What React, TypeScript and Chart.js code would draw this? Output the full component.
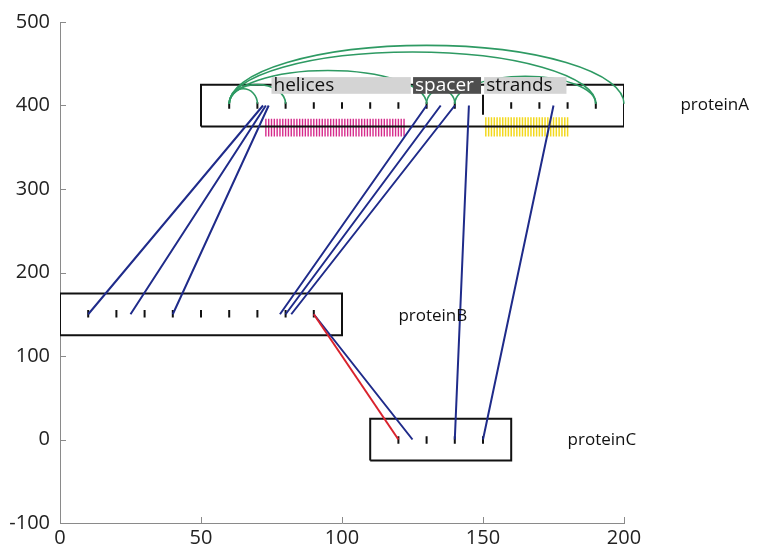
import React, { useEffect, useRef } from "react";
import { Chart, registerables } from "chart.js";

Chart.register(...registerables);

// ---------- data ----------
const proteinNames = ["proteinA", "proteinB", "proteinC"];
const proteinStart = [50, 0, 110];
const proteinEnd = [200, 100, 160];
const proteinLevel = [400, 150, 0];
const labelOffset = [0, -2, -1];

// residue tick marks on each protein
const proteinATicks = [60, 70, 80, 90, 100, 110, 120, 130, 140, 160, 170, 180, 190];
const proteinBTicks = [10, 20, 30, 40, 50, 60, 70, 80, 90];
const proteinCTicks = [120, 130, 140, 150];
const proteinABoundary = [150];

// domains on proteinA
const domainNames = ["helices", "spacer", "strands"];
const domainStart = [75, 125.2, 150.4];
const domainEnd = [124.4, 149.3, 179.6];
const domainDark = [false, true, false];

// residue-level feature marks on proteinA
const helixMarkFrom = 73;
const helixMarkTo = 122;
const strandMarkFrom = 151;
const strandMarkTo = 180;

// cross-links between proteins (protein index, residue)
const linkFromProtein = [0, 0, 0, 0, 0, 0, 0, 0, 1];
const linkFromResidue = [72, 73, 74, 130, 135, 140, 145, 175, 90];
const linkToProtein = [1, 1, 1, 1, 1, 1, 2, 2, 2];
const linkToResidue = [10, 25, 40, 78, 80, 82, 140, 150, 125];

// highlighted (red) cross-link
const redFromProtein = [1];
const redFromResidue = [90];
const redToProtein = [2];
const redToResidue = [120];

// self-links on proteinA (arcs)
const arcFrom = [60, 60, 60, 60, 60, 130, 140];
const arcTo = [70, 80, 130, 190, 200, 140, 190];
const arcHeight = [18, 23, 40, 62, 70, 17, 33];

// axes
const xTicks = [0, 50, 100, 150, 200];
const yTicks = [-100, 0, 100, 200, 300, 400, 500];

// ---------- style constants ----------
const BOX_HALF = 25;
const FONT = "'Open Sans', 'DejaVu Sans', sans-serif";
const BLUE = "#1f2b8a";
const RED = "#d9232d";
const GREEN = "#2e9a63";
const MAGENTA = "#d62c8c";
const YELLOW = "#f2d81f";
const AXIS = "#8a8a8a";

type P = { x: number; y: number | null };

function boxData(i: number): P[] {
  const s = proteinStart[i], e = proteinEnd[i], l = proteinLevel[i];
  return [
    { x: s, y: l - BOX_HALF },
    { x: e, y: l - BOX_HALF },
    { x: e, y: l + BOX_HALF },
    { x: s, y: l + BOX_HALF },
    { x: s, y: l - BOX_HALF },
  ];
}

function segs(xs: number[], y0: number, y1: number): P[] {
  const out: P[] = [];
  xs.forEach((x) => {
    out.push({ x, y: y0 }, { x, y: y1 }, { x, y: null });
  });
  return out;
}

function rangeMarks(from: number, to: number): number[] {
  const r: number[] = [];
  for (let v = from; v <= to; v++) r.push(v);
  return r;
}

function linkData(fp: number[], fr: number[], tp: number[], tr: number[]): P[] {
  const out: P[] = [];
  fp.forEach((p, i) => {
    out.push(
      { x: fr[i], y: proteinLevel[p] },
      { x: tr[i], y: proteinLevel[tp[i]] },
      { x: tr[i], y: null }
    );
  });
  return out;
}

const overlay = {
  id: "overlay",
  afterDatasetsDraw(chart: any) {
    const { ctx, scales, chartArea } = chart;
    const xs = scales.x, ys = scales.y;
    ctx.save();

    // inward axis ticks
    ctx.strokeStyle = AXIS;
    ctx.lineWidth = 1;
    yTicks.forEach((v) => {
      const py = Math.round(ys.getPixelForValue(v)) + 0.5;
      ctx.beginPath();
      ctx.moveTo(chartArea.left, py);
      ctx.lineTo(chartArea.left + 6, py);
      ctx.stroke();
    });
    xTicks.forEach((v) => {
      const px = Math.round(xs.getPixelForValue(v)) + 0.5;
      ctx.beginPath();
      ctx.moveTo(px, chartArea.bottom);
      ctx.lineTo(px, chartArea.bottom - 6);
      ctx.stroke();
    });

    // self-link arcs on proteinA
    const base = proteinLevel[0] + 2;
    ctx.strokeStyle = GREEN;
    ctx.lineWidth = 1.6;
    arcFrom.forEach((a, i) => {
      const pa = xs.getPixelForValue(a);
      const pb = xs.getPixelForValue(arcTo[i]);
      const cy = ys.getPixelForValue(base);
      const ry = cy - ys.getPixelForValue(base + arcHeight[i]);
      ctx.beginPath();
      ctx.ellipse((pa + pb) / 2, cy, Math.abs(pb - pa) / 2, ry, 0, Math.PI, 2 * Math.PI);
      ctx.stroke();
    });

    // domain bars
    const top = proteinLevel[0] + BOX_HALF + 9;
    const bot = proteinLevel[0] + BOX_HALF - 11;
    domainNames.forEach((name, i) => {
      const x0 = xs.getPixelForValue(domainStart[i]);
      const x1 = xs.getPixelForValue(domainEnd[i]);
      const y0 = ys.getPixelForValue(top);
      const y1 = ys.getPixelForValue(bot);
      ctx.fillStyle = domainDark[i] ? "#4e4e4e" : "#d4d4d4";
      ctx.fillRect(x0, y0, x1 - x0, y1 - y0);
      ctx.fillStyle = domainDark[i] ? "#ffffff" : "#111111";
      ctx.font = `19px ${FONT}`;
      ctx.textBaseline = "middle";
      ctx.textAlign = "left";
      ctx.fillText(name, x0 + 2, (y0 + y1) / 2);
    });

    // protein names
    ctx.fillStyle = "#111111";
    ctx.font = `17px ${FONT}`;
    ctx.textBaseline = "middle";
    ctx.textAlign = "left";
    proteinNames.forEach((n, i) => {
      ctx.fillText(n, xs.getPixelForValue(proteinEnd[i] + 20), ys.getPixelForValue(proteinLevel[i] + labelOffset[i]));
    });

    ctx.restore();
  },
};

export default function App() {
  const ref = useRef<HTMLCanvasElement>(null);

  useEffect(() => {
    const tickDatasets = [
      { data: segs(proteinATicks, proteinLevel[0] - 4, proteinLevel[0] + 4) },
      { data: segs(proteinABoundary, proteinLevel[0] - 11, proteinLevel[0] + 13) },
      { data: segs(proteinBTicks, proteinLevel[1] - 4, proteinLevel[1] + 5) },
      { data: segs(proteinCTicks, proteinLevel[2] - 5, proteinLevel[2] + 4) },
    ];
    const datasets: any[] = [];
    proteinNames.forEach((_, i) => {
      datasets.push({
        data: boxData(i),
        showLine: true,
        borderColor: "#111",
        borderWidth: 2,
        pointRadius: 0,
        order: 10,
      });
    });
    tickDatasets.forEach((t) => {
      datasets.push({
        data: t.data,
        showLine: true,
        spanGaps: false,
        borderColor: "#111",
        borderWidth: 2,
        pointRadius: 0,
        order: 9,
      });
    });
    datasets.push({
      data: segs(rangeMarks(helixMarkFrom, helixMarkTo), proteinLevel[0] - 37, proteinLevel[0] - 16),
      showLine: true,
      spanGaps: false,
      borderColor: MAGENTA,
      borderWidth: 1.4,
      pointRadius: 0,
      order: 11,
    });
    datasets.push({
      data: segs(rangeMarks(strandMarkFrom, strandMarkTo), proteinLevel[0] - 37, proteinLevel[0] - 14),
      showLine: true,
      spanGaps: false,
      borderColor: YELLOW,
      borderWidth: 1.5,
      pointRadius: 0,
      order: 11,
    });
    datasets.push({
      data: linkData(linkFromProtein, linkFromResidue, linkToProtein, linkToResidue),
      showLine: true,
      spanGaps: false,
      borderColor: BLUE,
      borderWidth: 2,
      pointRadius: 0,
      order: 2,
    });
    datasets.push({
      data: linkData(redFromProtein, redFromResidue, redToProtein, redToResidue),
      showLine: true,
      spanGaps: false,
      borderColor: RED,
      borderWidth: 2,
      pointRadius: 0,
      order: 1,
    });

    const chart = new Chart(ref.current!, {
      type: "scatter",
      data: { datasets },
      options: {
        animation: false,
        responsive: false,
        events: [],
        layout: { padding: { left: 0, top: 20, right: 138, bottom: 0 } },
        plugins: { legend: { display: false }, tooltip: { enabled: false } },
        scales: {
          x: {
            type: "linear",
            min: 0,
            max: 200,
            afterFit: (s: any) => { s.height = 28; },
            afterBuildTicks: (s: any) => { s.ticks = xTicks.map((v) => ({ value: v })); },
            grid: { display: false, drawTicks: false },
            border: { display: true, color: AXIS, width: 1 },
            ticks: { color: "#222", font: { family: FONT, size: 20 }, padding: 3, maxRotation: 0 },
          },
          y: {
            type: "linear",
            min: -100,
            max: 500,
            afterFit: (s: any) => { s.width = 60; },
            afterBuildTicks: (s: any) => { s.ticks = yTicks.map((v) => ({ value: v })); },
            grid: { display: false, drawTicks: false },
            border: { display: true, color: AXIS, width: 1 },
            ticks: { color: "#222", font: { family: FONT, size: 20 }, padding: 10 },
          },
        },
      },
      plugins: [overlay],
    } as any);
    return () => chart.destroy();
  }, []);

  return (
    <div style={{ position: "absolute", left: 0, top: 0, width: 762, height: 551, background: "#fff" }}>
      <canvas ref={ref} width={762} height={551} style={{ display: "block", width: 762, height: 551 }} />
    </div>
  );
}
